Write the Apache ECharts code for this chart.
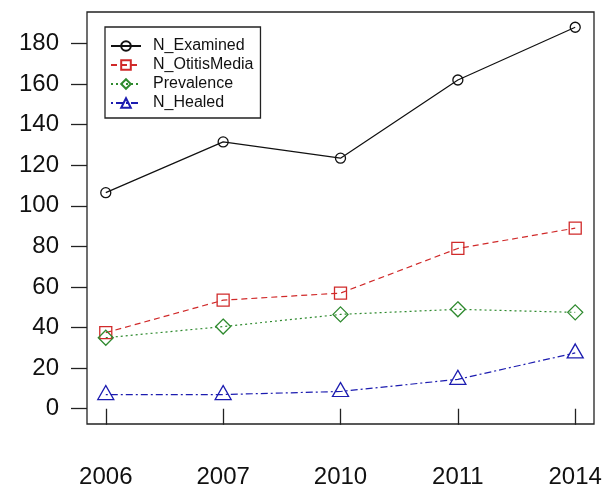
<!DOCTYPE html>
<html>
<head>
<meta charset="utf-8">
<script src="https://cdn.jsdelivr.net/npm/echarts@6/dist/echarts.min.js"></script>
<style>html,body{margin:0;padding:0;background:#fff;}#c{width:616px;height:499px;}</style>
</head>
<body>
<div id="c"></div>
<script>
const categories = ['2006', '2007', '2010', '2011', '2014'];
const nExamined = [106.5, 131.5, 123.5, 162, 188];
const nOtitisMedia = [37.5, 53.5, 57, 79, 89];
const prevalence = [35, 40.5, 46.5, 49, 47.5];
const nHealed = [7, 7, 8.5, 14.5, 27.5];
const yTicks = [0, 20, 40, 60, 80, 100, 120, 140, 160, 180];

const xPos = categories.map((_, i) => i + 1);
const pairs = arr => arr.map((v, i) => [xPos[i], v]);
const font = '"Liberation Sans", Arial, sans-serif';

function mk(name, data, color, type, symbol, size, offset) {
  return {
    name: name, type: 'line', data: pairs(data),
    symbol: symbol, symbolSize: size, symbolOffset: offset || [0, 0],
    showAllSymbol: true,
    lineStyle: { color: color, width: 1.2, type: type },
    itemStyle: { color: 'rgba(255,255,255,0)', borderColor: color, borderWidth: 1.3 },
    emphasis: { disabled: true },
    animation: false, z: 3
  };
}

const chart = echarts.init(document.getElementById('c'), null, { renderer: 'canvas' });
chart.setOption({
  backgroundColor: '#fff',
  animation: false,
  grid: { left: 87, right: 22, top: 12, bottom: 75, show: true, borderColor: '#222', borderWidth: 1.3, backgroundColor: 'transparent' },
  xAxis: {
    type: 'value', min: 0.84, max: 5.16,
    splitLine: { show: false },
    axisLine: { show: false },
    axisTick: { show: true, customValues: xPos, length: 16, lineStyle: { color: '#222', width: 1.3 } },
    axisLabel: {
      customValues: xPos, margin: 41, color: '#111', fontSize: 24, fontFamily: font,
      formatter: v => categories[Math.round(v) - 1] || ''
    }
  },
  yAxis: {
    type: 'value', min: -7.52, max: 195.52,
    splitLine: { show: false },
    axisLine: { show: false },
    axisTick: { show: true, customValues: yTicks, length: 16, lineStyle: { color: '#222', width: 1.3 } },
    axisLabel: { customValues: yTicks, margin: 28, color: '#111', fontSize: 24, fontFamily: font }
  },
  legend: {
    orient: 'vertical', left: 105, top: 27,
    backgroundColor: '#fff', borderColor: '#222', borderWidth: 1.3,
    padding: [11, 7, 7, 5],
    itemWidth: 30, itemHeight: 12, itemGap: 3,
    textStyle: { fontSize: 16, fontFamily: font, color: '#111', padding: [0, 0, 0, 7] },
    data: ['N_Examined', 'N_OtitisMedia', 'Prevalence', 'N_Healed']
  },
  series: [
    mk('N_Examined', nExamined, '#111111', 'solid', 'circle', 10),
    mk('N_OtitisMedia', nOtitisMedia, '#d02a2a', [6, 4], 'rect', 12),
    mk('Prevalence', prevalence, '#2f8a2f', [2, 3], 'diamond', 15),
    mk('N_Healed', nHealed, '#1c1cb0', [2, 3, 7, 3], 'triangle', [16, 14], [0, -2])
  ]
});
</script>
</body>
</html>
